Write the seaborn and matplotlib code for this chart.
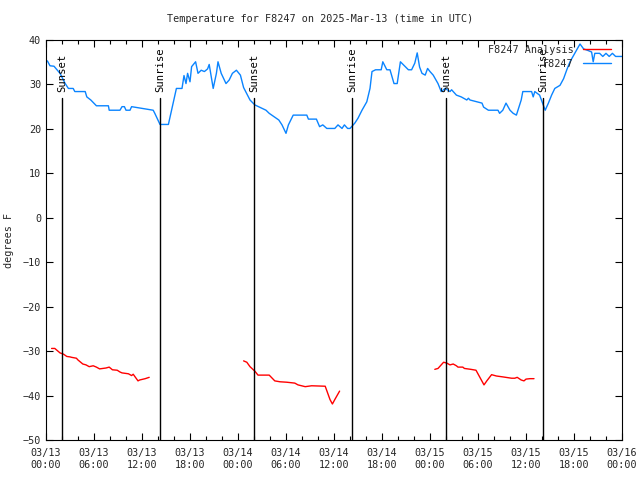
import matplotlib
matplotlib.use("Agg")
import matplotlib.pyplot as plt
import matplotlib.dates as mdates
import seaborn as sns
import pandas as pd
import numpy as np
from matplotlib.lines import Line2D

# ---- data (hours after 2025-03-13 00:00 UTC) ----
obs_hours = [0.17, 0.5, 1.0, 1.75, 2.4, 2.8, 3.4, 3.6, 4.9, 5.1, 5.6, 6.3, 7.8, 7.9,
             9.25, 9.5, 9.8, 10.0, 10.5, 10.7, 13.4, 13.6, 14.25, 15.3, 15.7, 16.3,
             17.0, 17.25, 17.5, 17.7, 18.0, 18.2, 18.7, 19.0, 19.4, 19.8, 20.2, 20.4,
             20.9, 21.3, 21.5, 21.9, 22.5, 22.9, 23.3, 23.8, 24.3, 24.7, 25.5, 26.1,
             27.5, 27.9, 29.1, 29.5, 30.0, 30.3, 30.9, 32.6, 32.8, 33.8, 34.2, 34.6,
             35.1, 36.1, 36.5, 37.0, 37.3, 37.7, 38.0, 38.4, 38.6, 39.0, 39.5, 40.1,
             40.5, 40.75, 41.2, 41.9, 42.1, 42.6, 43.0, 43.5, 43.9, 44.3, 45.3, 45.7,
             46.1, 46.4, 46.7, 47.0, 47.4, 47.7, 48.0, 48.4, 49.0, 49.4, 49.9, 50.5,
             50.7, 50.9, 51.3, 51.9, 52.6, 52.8, 53.0, 54.5, 54.7, 55.3, 56.5, 56.7,
             57.1, 57.5, 58.0, 58.4, 58.8, 59.4, 59.6, 60.7, 60.9, 61.1, 61.7, 62.4,
             62.8, 63.2, 63.6, 64.25, 64.7, 65.1, 65.5, 66.1, 66.75, 67.2, 67.8, 68.2,
             68.4, 68.6, 69.2, 69.6, 70.0, 70.4, 70.8, 71.2, 71.75, 72.0]
obs_temp = [35.3, 34.2, 34.1, 32.5, 30.2, 29.1, 29.1, 28.4, 28.4, 27.2, 26.5, 25.2, 25.2, 24.2,
            24.2, 25.0, 25.0, 24.2, 24.2, 25.0, 24.2, 23.5, 21.0, 21.0, 24.2, 29.1,
            29.1, 32.0, 30.2, 32.5, 30.6, 34.0, 35.1, 32.5, 33.2, 32.9, 33.5, 34.5,
            29.1, 32.5, 35.1, 32.5, 30.2, 31.0, 32.5, 33.2, 32.1, 29.3, 26.5, 25.4,
            24.2, 23.5, 22.0, 20.9, 19.0, 20.9, 23.1, 23.1, 22.2, 22.2, 20.5, 20.9,
            20.1, 20.1, 20.9, 20.1, 20.9, 20.1, 20.1, 20.9, 21.3, 22.4, 24.2, 26.1,
            29.1, 32.9, 33.3, 33.3, 35.1, 33.3, 33.3, 30.2, 30.2, 35.1, 33.3, 33.3,
            34.8, 37.1, 33.9, 32.5, 32.1, 33.6, 32.9, 32.1, 30.2, 28.4, 29.1, 28.4,
            28.8, 28.4, 27.6, 27.2, 26.5, 26.9, 26.5, 25.8, 24.9, 24.2, 24.2, 23.5,
            24.2, 25.8, 24.2, 23.5, 23.1, 26.5, 28.4, 28.4, 27.2, 28.4, 27.6, 24.2,
            25.8, 27.6, 29.1, 29.8, 31.3, 33.3, 35.1, 37.0, 39.1, 38.0, 37.6, 37.3,
            35.1, 37.0, 37.0, 36.3, 37.0, 36.3, 37.0, 36.3, 36.3, 36.3]

ana_hours_1 = [0.7, 1.1, 1.75, 2.2, 2.6, 3.0, 3.2, 3.8, 4.0, 4.6, 5.0, 5.4, 5.9, 6.3,
               6.7, 7.5, 7.9, 8.3, 8.9, 9.25, 9.5, 10.3, 10.7, 10.9, 11.5, 11.7, 12.4, 12.9]
ana_temp_1 = [-29.4, -29.4, -30.4, -30.7, -31.2, -31.3, -31.4, -31.6, -32.0, -32.9, -33.1,
              -33.5, -33.3, -33.6, -34.0, -33.8, -33.6, -34.2, -34.3, -34.7, -34.9, -35.1,
              -35.5, -35.2, -36.7, -36.5, -36.2, -35.9]
ana_hours_2 = [24.7, 25.1, 25.5, 26.1, 26.5, 27.9, 28.6, 29.25, 30.1, 31.1, 31.5, 32.4,
               33.2, 34.9, 35.5, 35.8, 36.1, 36.7]
ana_temp_2 = [-32.2, -32.5, -33.5, -34.5, -35.4, -35.4, -36.7, -36.9, -37.0, -37.2, -37.6,
              -38.0, -37.8, -37.9, -40.9, -41.9, -40.9, -39.0]
ana_hours_3 = [48.6, 49.0, 49.7, 50.1, 50.5, 50.9, 51.3, 51.5, 52.1, 52.3, 53.1, 53.75,
               54.75, 55.1, 55.7, 56.3, 57.1, 58.2, 58.6, 58.9, 59.4, 59.75, 60.0, 60.5, 61.0]
ana_temp_3 = [-34.1, -33.9, -32.5, -32.7, -33.1, -32.9, -33.3, -33.6, -33.6, -33.9, -34.1,
              -34.3, -37.6, -36.7, -35.3, -35.6, -35.8, -36.1, -36.1, -35.9, -36.5, -36.7,
              -36.3, -36.2, -36.2]

sun_hours = [2.0, 14.25, 26.0, 38.25, 50.0, 62.1]
sun_labels = ["Sunset", "Sunrise", "Sunset", "Sunrise", "Sunset", "Sunrise"]
legend_labels = ["F8247 Analysis", "F8247"]

base = pd.Timestamp("2025-03-13 00:00")
def to_time(h):
    return [base + pd.Timedelta(hours=v) for v in h]

sns.set_style("ticks")
plt.rcParams['font.family'] = ['DejaVu Sans Mono', 'DejaVu Sans']
FS = 7.3

fig = plt.figure(figsize=(6.4, 4.8), dpi=100)
ax = fig.add_axes([46/640, 40/480, 576/640, 400/480])

BLUE = "#0a84ff"
RED = "#ff0000"

obs_df = pd.DataFrame({"time": to_time(obs_hours), "temp": obs_temp})
sns.lineplot(data=obs_df, x="time", y="temp", color=BLUE, lw=1, ax=ax, estimator=None)
for hh, tt in [(ana_hours_1, ana_temp_1), (ana_hours_2, ana_temp_2), (ana_hours_3, ana_temp_3)]:
    d = pd.DataFrame({"time": to_time(hh), "temp": tt})
    sns.lineplot(data=d, x="time", y="temp", color=RED, lw=1, ax=ax, estimator=None)

for h, lab in zip(sun_hours, sun_labels):
    t = base + pd.Timedelta(hours=h)
    ax.plot([t, t], [-50, 27.0], color="black", lw=1)
    ax.text(t, 28.2, lab, rotation=90, rotation_mode="anchor", ha="left", va="center",
            fontsize=FS + 0.3, color="black")

ax.set_xlim(base, base + pd.Timedelta(hours=72))
ax.set_ylim(-50, 40)
ax.set_yticks(np.arange(-50, 41, 10))
ax.xaxis.set_major_locator(mdates.HourLocator(byhour=[0, 6, 12, 18]))
ax.xaxis.set_minor_locator(mdates.HourLocator(byhour=range(0, 24, 2)))
ax.xaxis.set_major_formatter(mdates.DateFormatter("%m/%d\n%H:%M"))
ax.tick_params(axis="both", which="both", direction="in", top=True, right=True,
               labelsize=FS, color="black", width=0.8)
ax.tick_params(axis="both", which="major", length=5)
ax.tick_params(axis="x", which="minor", length=3)
ax.tick_params(axis="x", which="major", pad=6)
for s in ax.spines.values():
    s.set_visible(True)
    s.set_color("black")
    s.set_linewidth(0.8)

ax.set_xlabel("")
ax.set_ylabel("degrees F", fontsize=FS, labelpad=6)
fig.suptitle("Temperature for F8247 on 2025-Mar-13 (time in UTC)", fontsize=FS, y=0.97)

handles = [Line2D([], [], color=RED, lw=1), Line2D([], [], color=BLUE, lw=1)]
leg = ax.legend(handles, legend_labels, loc="upper right",
                frameon=False, markerfirst=False, fontsize=FS, handlelength=2.8,
                handletextpad=0.9, labelspacing=0.35, borderaxespad=0.0, borderpad=0.0)
leg.set_bbox_to_anchor((611/640, 1 - 45/480), transform=fig.transFigure)

fig.savefig("out.png", dpi=100)
